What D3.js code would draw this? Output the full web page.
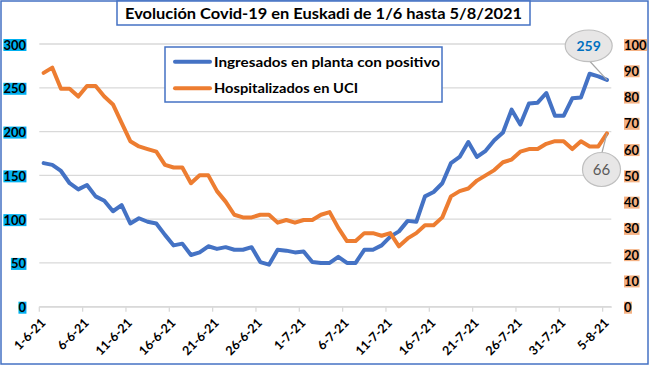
<!DOCTYPE html>
<html>
<head>
<meta charset="utf-8">
<script src="https://cdn.jsdelivr.net/npm/d3@7"></script>
<style>
  body { margin: 0; background: #fff; }
  svg { display: block; font-family: Lato, "Open Sans", sans-serif; }
</style>
</head>
<body>
<svg id="chart" width="650" height="366"></svg>
<script>
const dates = [
  "1-6-21","2-6-21","3-6-21","4-6-21","5-6-21","6-6-21","7-6-21","8-6-21","9-6-21","10-6-21",
  "11-6-21","12-6-21","13-6-21","14-6-21","15-6-21","16-6-21","17-6-21","18-6-21","19-6-21","20-6-21",
  "21-6-21","22-6-21","23-6-21","24-6-21","25-6-21","26-6-21","27-6-21","28-6-21","29-6-21","30-6-21",
  "1-7-21","2-7-21","3-7-21","4-7-21","5-7-21","6-7-21","7-7-21","8-7-21","9-7-21","10-7-21",
  "11-7-21","12-7-21","13-7-21","14-7-21","15-7-21","16-7-21","17-7-21","18-7-21","19-7-21","20-7-21",
  "21-7-21","22-7-21","23-7-21","24-7-21","25-7-21","26-7-21","27-7-21","28-7-21","29-7-21","30-7-21",
  "31-7-21","1-8-21","2-8-21","3-8-21","4-8-21","5-8-21"
];
// Ingresados en planta con positivo (eje izquierdo)
const ingresados = [
  164,162,155,141,134,139,126,121,109,116,
  95,101,97,95,82,70,72,59,62,69,
  66,68,65,65,68,51,48,65,64,62,
  63,51,50,50,57,50,50,65,65,70,
  80,86,98,97,126,131,141,164,171,188,
  171,178,190,199,225,208,232,233,244,218,
  218,238,239,266,263,259
];
// Hospitalizados en UCI (eje derecho)
const uci = [
  89,91,83,83,80,84,84,80,77,70,
  63,61,60,59,54,53,53,47,50,50,
  44,40,35,34,34,35,35,32,33,32,
  33,33,35,36,30,25,25,28,28,27,
  28,23,26,28,31,31,34,42,44,45,
  48,50,52,55,56,59,60,60,62,63,
  63,60,63,61,61,66
];
const leftTicks = [0, 50, 100, 150, 200, 250, 300];
const rightTicks = [0, 10, 20, 30, 40, 50, 60, 70, 80, 90, 100];
const xLabels = ["1-6-21","6-6-21","11-6-21","16-6-21","21-6-21","26-6-21","1-7-21","6-7-21","11-7-21","16-7-21","21-7-21","26-7-21","31-7-21","5-8-21"];
const seriesNames = ["Ingresados en planta con positivo", "Hospitalizados en UCI"];
const title = "Evolución Covid-19 en Euskadi de 1/6 hasta 5/8/2021";

const blue = "#4472c4", orange = "#ed7d31";
const svg = d3.select("#chart");

// marco exterior
svg.append("rect").attr("x", 1).attr("y", 1).attr("width", 647).attr("height", 363)
  .attr("fill", "#fff").attr("stroke", blue).attr("stroke-width", 1.5);

const x = d3.scaleBand().domain(dates).range([39.3, 611.3]);
const xc = d => x(d) + x.bandwidth() / 2;
const yL = d3.scaleLinear().domain([0, 300]).range([306.7, 44]);
const yR = d3.scaleLinear().domain([0, 100]).range([306.7, 44]);

function fit(sel, w) {
  const len = sel.node().getComputedTextLength();
  if (Math.abs(len - w) > 2) sel.attr("textLength", w).attr("lengthAdjust", "spacingAndGlyphs");
}

// gridlines
svg.append("g").selectAll("line").data(leftTicks).join("line")
  .attr("x1", 39.3).attr("x2", 611.3)
  .attr("y1", d => yL(d)).attr("y2", d => yL(d))
  .attr("stroke", "#d9d9d9").attr("stroke-width", 1.3);

// x axis
const xAxis = svg.append("g").attr("transform", "translate(0," + yL(0) + ")")
  .call(d3.axisBottom(x).tickValues(xLabels).tickSize(5).tickSizeOuter(0));
xAxis.select(".domain").attr("stroke", "#d9d9d9").attr("stroke-width", 1.3);
xAxis.selectAll(".tick line").attr("stroke", "#d9d9d9").attr("stroke-width", 1.3);
xAxis.selectAll(".tick").attr("transform", d => "translate(" + x(d) + ",0)");
xAxis.selectAll(".tick text")
  .attr("font-family", "Lato, sans-serif").attr("font-size", 12.5).attr("font-weight", "bold")
  .attr("fill", "#000").attr("text-anchor", "end")
  .attr("x", 0).attr("y", 0).attr("dy", 0)
  .attr("transform", "translate(7,17) rotate(-45)");

// left axis labels (cyan highlight)
const lg = svg.append("g");
leftTicks.forEach(v => {
  const t = lg.append("text").attr("x", 26).attr("y", yL(v) + 1).attr("dy", "0.35em")
    .attr("text-anchor", "end").attr("font-size", 13).attr("font-weight", "bold").text(v);
  const b = t.node().getBBox();
  lg.insert("rect", "text").attr("x", b.x).attr("y", yL(v) - 5).attr("width", b.width).attr("height", 12)
    .attr("fill", "#00b0f0");
});

// right axis labels (orange highlight)
const rg = svg.append("g");
rightTicks.forEach(v => {
  const t = rg.append("text").attr("x", 624).attr("y", yR(v) + 1).attr("dy", "0.35em")
    .attr("text-anchor", "start").attr("font-size", 13).attr("font-weight", "bold").text(v);
  const b = t.node().getBBox();
  rg.insert("rect", "text").attr("x", b.x).attr("y", yR(v) - 5).attr("width", b.width).attr("height", 12)
    .attr("fill", "#f4b183");
});

// lines
const lineL = d3.line().x((d, i) => xc(dates[i])).y(d => yL(d));
const lineR = d3.line().x((d, i) => xc(dates[i])).y(d => yR(d));
svg.append("path").datum(ingresados).attr("d", lineL).attr("fill", "none")
  .attr("stroke", blue).attr("stroke-width", 4).attr("stroke-linejoin", "round").attr("stroke-linecap", "round");
svg.append("path").datum(uci).attr("d", lineR).attr("fill", "none")
  .attr("stroke", orange).attr("stroke-width", 4).attr("stroke-linejoin", "round").attr("stroke-linecap", "round");

// title
svg.append("rect").attr("x", 117).attr("y", 1).attr("width", 413).attr("height", 24)
  .attr("fill", "#fff").attr("stroke", blue).attr("stroke-width", 1.5);
const tt = svg.append("text").attr("x", 323.5).attr("y", 19).attr("text-anchor", "middle")
  .attr("font-size", 16).attr("font-weight", "bold").text(title);
fit(tt, 397);

// legend
const leg = svg.append("g");
leg.append("rect").attr("x", 165).attr("y", 47).attr("width", 277).attr("height", 55)
  .attr("fill", "#fff").attr("stroke", blue).attr("stroke-width", 1.5);
[[blue, 61.7, 226], [orange, 88.3, 144]].forEach((e, i) => {
  leg.append("line").attr("x1", 175).attr("x2", 210).attr("y1", e[1]).attr("y2", e[1])
    .attr("stroke", e[0]).attr("stroke-width", 4).attr("stroke-linecap", "round");
  const t = leg.append("text").attr("x", 214).attr("y", e[1]).attr("dy", "0.35em")
    .attr("font-size", 14).attr("font-weight", "bold").text(seriesNames[i]);
  fit(t, e[2]);
});

// callouts
const last = dates.length - 1;
function callout(cx, cy, rx, ry, px, py, lx, ly, label, color, weight, size) {
  svg.append("line").attr("x1", lx).attr("y1", ly).attr("x2", px).attr("y2", py)
    .attr("stroke", "#a6a6a6").attr("stroke-width", 1.2);
  svg.append("ellipse").attr("cx", cx).attr("cy", cy).attr("rx", rx).attr("ry", ry)
    .attr("fill", "#e7e6e6").attr("stroke", "#bfbfbf").attr("stroke-width", 1.2);
  svg.append("text").attr("x", cx).attr("y", cy).attr("dy", "0.35em").attr("text-anchor", "middle")
    .attr("font-size", size).attr("font-weight", weight).attr("fill", color).text(label);
}
callout(588.7, 45.8, 23.5, 15.8, xc(dates[last]), yL(ingresados[last]), 590, 61.5,
  ingresados[last], "#0070c0", "bold", 14);
callout(601.5, 169.5, 19, 17, xc(dates[last]), yR(uci[last]), 602, 152.5,
  uci[last], "#595959", "normal", 15);
</script>
</body>
</html>
